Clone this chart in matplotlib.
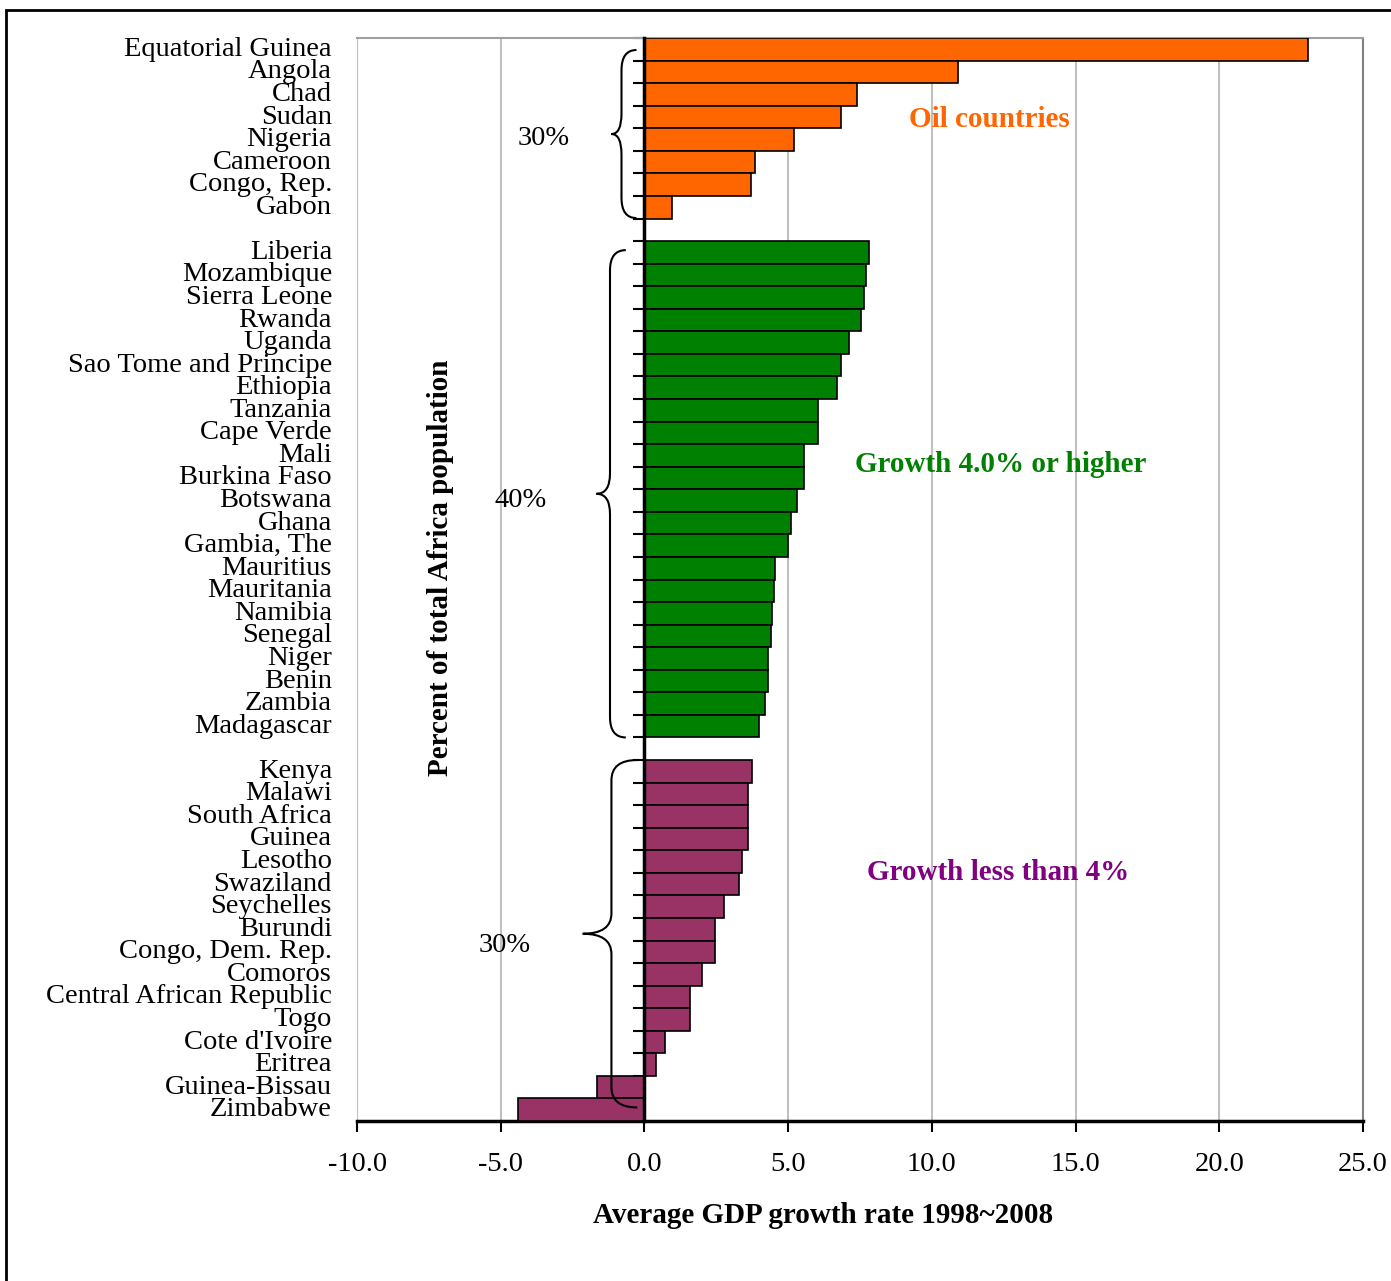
import numpy as np
import matplotlib
matplotlib.use("Agg")
import matplotlib.pyplot as plt
from matplotlib.path import Path
import matplotlib.patches as mpatches
import matplotlib.transforms as mtransforms

plt.rcParams["font.family"] = ["Liberation Serif", "DejaVu Serif"]

# Average GDP growth rate 1998~2008, three country groups
oil_countries = ["Equatorial Guinea", "Angola", "Chad", "Sudan", "Nigeria",
                 "Cameroon", "Congo, Rep.", "Gabon"]
oil_growth = [23.1, 10.9, 7.4, 6.85, 5.2, 3.85, 3.7, 0.95]

high_countries = ["Liberia", "Mozambique", "Sierra Leone", "Rwanda", "Uganda",
                  "Sao Tome and Principe", "Ethiopia", "Tanzania", "Cape Verde",
                  "Mali", "Burkina Faso", "Botswana", "Ghana", "Gambia, The",
                  "Mauritius", "Mauritania", "Namibia", "Senegal", "Niger",
                  "Benin", "Zambia", "Madagascar"]
high_growth = [7.8, 7.7, 7.65, 7.55, 7.1, 6.85, 6.7, 6.05, 6.05, 5.55, 5.55,
               5.3, 5.1, 5.0, 4.55, 4.5, 4.45, 4.4, 4.3, 4.3, 4.2, 4.0]

low_countries = ["Kenya", "Malawi", "South Africa", "Guinea", "Lesotho",
                 "Swaziland", "Seychelles", "Burundi", "Congo, Dem. Rep.",
                 "Comoros", "Central African Republic", "Togo", "Cote d'Ivoire",
                 "Eritrea", "Guinea-Bissau", "Zimbabwe"]
low_growth = [3.75, 3.6, 3.6, 3.6, 3.4, 3.3, 2.75, 2.45, 2.45, 2.0, 1.6, 1.6,
              0.7, 0.4, -1.65, -4.4]

group_labels = ["Oil countries", "Growth 4.0% or higher", "Growth less than 4%"]
group_shares = ["30%", "40%", "30%"]
group_colors = ["#FF6600", "#008000", "#993366"]
text_colors = ["#FF6600", "#008000", "#800080"]

groups = [(oil_countries, oil_growth), (high_countries, high_growth),
          (low_countries, low_growth)]

fig = plt.figure(figsize=(13.91, 12.81), dpi=100)
ax = fig.add_axes([0.2567, 0.1249, 0.7232, 0.8454])

# outer frame around the whole chart (right/bottom run off the canvas)
fig.patches.append(mpatches.Rectangle((6 / 1391, -0.2), 1.1, 1.2 - 10 / 1281,
                                      transform=fig.transFigure, fill=False,
                                      edgecolor="black", linewidth=2))

trans = mtransforms.blended_transform_factory(ax.transAxes, ax.transData)


def draw_brace(ax, y0, y1, x_tip, x_mid, x_end):
    ym = (y0 + y1) / 2
    r = min(0.9, (y1 - y0) / 6)
    verts = [(x_end, y0), (x_mid, y0), (x_mid, y0 + r),
             (x_mid, ym - r),
             (x_mid, ym), (x_tip, ym),
             (x_mid, ym), (x_mid, ym + r),
             (x_mid, y1 - r),
             (x_mid, y1), (x_end, y1)]
    codes = [Path.MOVETO, Path.CURVE3, Path.CURVE3,
             Path.LINETO,
             Path.CURVE3, Path.CURVE3,
             Path.CURVE3, Path.CURVE3,
             Path.LINETO,
             Path.CURVE3, Path.CURVE3]
    ax.add_patch(mpatches.PathPatch(Path(verts, codes), fill=False,
                                    edgecolor="black", linewidth=1.5,
                                    zorder=4))


# brace geometry: (tip x, spine x, end x) and top/bottom inset in slots
brace_shapes = [(-1.15, -0.8, -0.28), (-1.67, -1.2, -0.65), (-2.15, -1.15, -0.25)]
brace_insets = [(0.03, 0.48), (-0.1, 0.5), (-0.5, -0.1)]
share_x = [-3.5, -4.3, -4.85]
share_dy = [0.2, 0.3, 0.5]
note_x = [12.0, 12.4, 12.3]
note_y = [3.1, 18.4, 36.5]

pos = 0
for i, (names, vals) in enumerate(groups):
    y = np.arange(pos, pos + len(names))
    ax.barh(y, vals, height=1.0, color=group_colors[i], edgecolor="black",
            linewidth=1.2, zorder=3)
    for yy, name in zip(y, names):
        ax.text(-0.025, yy, name, transform=trans, ha="right", va="center",
                fontsize=20.5)
    y0, y1 = y[0] + brace_insets[i][0], y[-1] + brace_insets[i][1]
    draw_brace(ax, y0, y1, *brace_shapes[i])
    ax.text(share_x[i], (y0 + y1) / 2 + share_dy[i], group_shares[i],
            ha="center", va="center", fontsize=20.5, zorder=5)
    ax.text(note_x[i], note_y[i], group_labels[i], ha="center", va="center",
            fontsize=21, fontweight="bold", color=text_colors[i])
    pos += len(names) + 1
n_slots = pos - 1

ax.set_xlim(-10, 25)
ax.set_ylim(n_slots - 0.5, -0.5)

ax.set_xticks(np.arange(-10, 26, 5))
ax.set_xticklabels([f"{v:.1f}" for v in np.arange(-10, 26, 5)])
ax.tick_params(axis="x", direction="out", length=8, width=1.5, pad=14,
               labelsize=20.5)
ax.grid(axis="x", color="#c0c0c0", linewidth=1.5, zorder=0)

ax.spines["left"].set_position(("data", 0))
ax.spines["left"].set_linewidth(2.5)
ax.spines["left"].set_zorder(5)
ax.spines["bottom"].set_linewidth(2.5)
ax.spines["top"].set_color("#a0a0a0")
ax.spines["top"].set_linewidth(1.5)
ax.spines["right"].set_color("#808080")
ax.spines["right"].set_linewidth(1.5)
ax.set_yticks([])
ax.set_yticks(np.arange(-0.5, n_slots), minor=True)
ax.tick_params(axis="y", which="minor", direction="out", length=8, width=1.5)
ax.set_yticklabels([], minor=True)

# plot-area border along the left edge
ax.axvline(-10, color="#a0a0a0", linewidth=1.5, zorder=1)

ax.set_xlabel("Average GDP growth rate 1998~2008", fontsize=21,
              fontweight="bold", labelpad=14)
ax.xaxis.set_label_coords(0.463, -0.075)
ax.text(-7.1, n_slots / 2 - 1, "Percent of total Africa population",
        rotation=90, ha="center", va="center", fontsize=21, fontweight="bold")

fig.savefig("out.png", dpi=100)
